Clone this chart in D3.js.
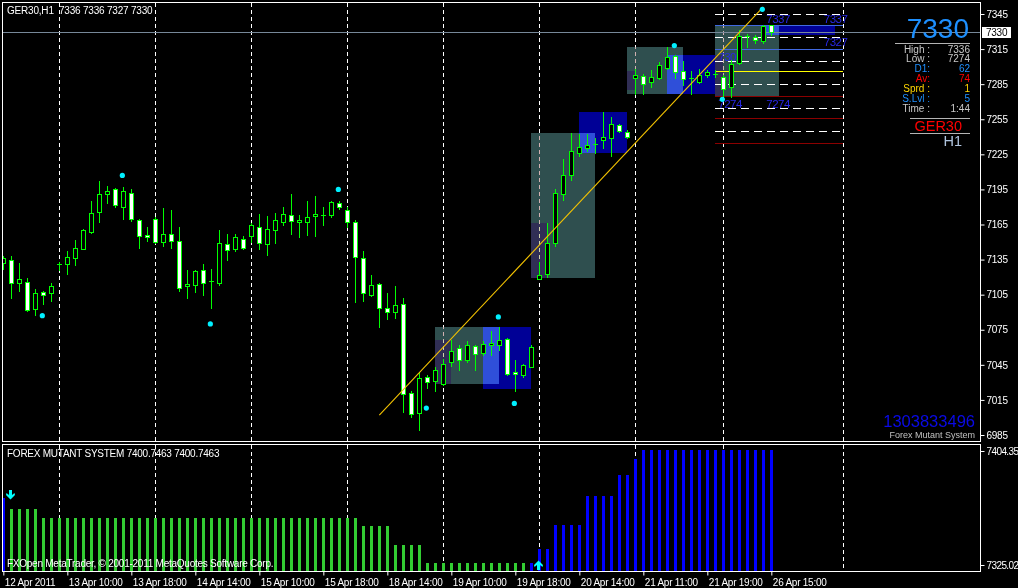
<!DOCTYPE html>
<html><head><meta charset="utf-8">
<script src="https://cdn.jsdelivr.net/npm/d3@7"></script>
<style>
body{margin:0;background:#000;}
svg{display:block;}
text{font-family:"Liberation Sans",Arial,sans-serif;}
</style></head><body>
<svg id="c" width="1018" height="588"></svg>
<script>
// ---------- DATA ----------
const open = [7132,7135,7115,7116,7093,7107,7106,7131,7131,7136,
7144,7159,7176,7191,7195,7180,7192,7169,7156,7170,
7150,7157,7151,7112,7113,7126,7117,7115,7148,7144,
7153,7155,7163,7148,7160,7167,7173,7167,7167,7172,
7173,7173,7183,7177,7167,7136,7105,7114,7094,7090,
7097,7021,7004,7035,7031,7029,7047,7059,7049,7061,
7055,7062,7062,7067,7039,7036,7043,7118,7123,7149,
7191,7207,7226,7230,7234,7237,7239,7250,7244,7290,
7292,7287,7290,7299,7309,7296,7290,7287,7293,7294,
7291,7283,7303,7326,7325,7322,7336];
const high = [7138,7138,7132,7119,7110,7108,7115,7133,7142,7152,
7161,7185,7202,7198,7196,7197,7195,7170,7163,7171,
7179,7177,7163,7126,7126,7131,7127,7160,7157,7157,
7155,7166,7174,7172,7175,7180,7191,7173,7185,7189,
7180,7185,7185,7180,7169,7142,7122,7115,7106,7112,
7102,7023,7039,7036,7043,7050,7066,7062,7065,7062,
7065,7074,7077,7068,7049,7046,7062,7133,7166,7195,
7221,7243,7242,7242,7239,7261,7257,7251,7246,7298,
7294,7297,7304,7317,7310,7305,7296,7298,7297,7297,
7293,7306,7331,7328,7327,7336,7336];
const low = [7127,7102,7108,7091,7088,7097,7100,7126,7123,7130,
7144,7158,7167,7183,7180,7170,7168,7145,7151,7149,
7147,7145,7108,7102,7107,7105,7094,7113,7135,7142,
7144,7150,7144,7139,7149,7165,7157,7154,7156,7155,
7165,7171,7178,7163,7099,7100,7104,7077,7084,7085,
7005,7000,6989,7025,7023,7028,7044,7041,7047,7041,
7053,7053,7058,7036,7023,7035,7043,7118,7120,7147,
7186,7203,7224,7228,7226,7230,7224,7244,7239,7277,
7277,7283,7289,7298,7290,7284,7277,7286,7291,7291,
7275,7274,7302,7317,7320,7320,7327];
const close = [7136,7115,7118,7092,7106,7105,7112,7131,7137,7145,
7160,7175,7191,7194,7182,7194,7170,7155,7154,7150,
7157,7151,7111,7114,7125,7115,7117,7149,7143,7154,
7145,7165,7149,7161,7169,7174,7168,7169,7171,7174,
7173,7184,7180,7167,7137,7106,7113,7094,7090,7096,
7020,7003,7034,7030,7041,7046,7057,7049,7062,7054,
7063,7064,7066,7037,7037,7045,7060,7122,7149,7192,
7207,7228,7231,7233,7234,7240,7251,7245,7240,7293,
7285,7291,7301,7308,7295,7289,7290,7293,7295,7294,
7281,7302,7326,7326,7323,7335,7330];

// indicator buffers (Forex Mutant System)
const _ = null;
const indGreen = [_,7364,7364,7364,7364,7357.7,7357.7,7357.7,7357.7,7357.7,
7357.7,7357.7,7357.7,7357.7,7357.7,7357.7,7357.7,7357.7,7357.7,7357.7,
7357.7,7357.7,7357.7,7357.7,7357.7,7357.7,7357.7,7357.7,7357.7,7357.7,
7357.7,7357.7,7357.7,7357.7,7357.7,7357.7,7357.7,7357.7,7357.7,7357.7,
7357.7,7357.7,7357.7,7357.7,7357.7,7352.2,7352.2,7352.2,7352.2,7338.9,
7338.9,7338.9,7338.9,7326.4,7326.4,7326.4,7326.4,7326.4,7326.4,7326.4,
7326.4,7326.4,7326.4,7326.4,7326.4,7326.4,_,_,_,_,
_,_,_,_,_,_,_,_,_,_,
_,_,_,_,_,_,_,_,_,_,
_,_,_,_,_,_,_];
const indBlue = [7371.6,_,_,_,_,_,_,_,_,_,
_,_,_,_,_,_,_,_,_,_,
_,_,_,_,_,_,_,_,_,_,
_,_,_,_,_,_,_,_,_,_,
_,_,_,_,_,_,_,_,_,_,
_,_,_,_,_,_,_,_,_,_,
_,_,_,_,_,_,7326.4,7336.2,7336.2,7352.9,
7352.9,7352.9,7352.9,7373,7373,7373,7373,7387.6,7387.6,7398.8,
7405,7405,7405,7405,7405,7405,7405,7405,7405,7405,
7405,7405,7405,7405,7405,7405,7405];
const arrowBar = [1, 67];
const arrowDir = ["down", "up"];

// signal dots
const dotBar = [5,15,26,42,53,62,64,84,90,95];
const dotPrice = [7087,7207,7080,7195,7008,7086,7012,7318,7272,7349];

// trend line
const trendBar = [47, 95];
const trendPrice = [7002, 7351];

// zones
const zoneStart=[54,66,78,89], zoneEnd=[62,74,85,97], zoneTop=[7077,7243,7317,7336], zoneBot=[7029,7119,7277,7275];
const innerStart=[54,66,78,89], innerEnd=[56,68,79,90], innerTop=[7066,7166,7296,7310], innerBot=[7029,7119,7280,7275];
const boxStart=[60,72,83,95], boxEnd=[66,78,89,104], boxTop=[7077,7261,7310,7336], boxBot=[7024,7226,7277,7327];

// level lines (right area)
const lvlFrom = 89, lvlTo = 105;
const lvlWhite = [7345,7325,7305,7285,7265,7245];
const lvlBlue = [7336,7315];
const lvlYellow = [7296];
const lvlRed = [7275,7256,7234.5];
const lblText = ["7337","7337","7327","7305","7274","7274"];
const lblPrice = [7337,7337,7327,7305,7274,7274];
const lblBar = [95,105,105,89,89,95];
const lblSide = ["start","end","end","start","start","start"];
const lblPos = ["above","above","below","above","below","below"];

// axes
const priceTicks = [7345,7315,7285,7255,7225,7195,7165,7135,7105,7075,7045,7015,6985];
const indTicks = [7404.35, 7325.02];
const dateBars = [0,8,16,24,32,40,48,56,64,72,80,88,96];
const dateLabels = ["12 Apr 2011","13 Apr 10:00","13 Apr 18:00","14 Apr 14:00","15 Apr 10:00","15 Apr 18:00","18 Apr 14:00","19 Apr 10:00","19 Apr 18:00","20 Apr 14:00","21 Apr 11:00","21 Apr 19:00","26 Apr 15:00"];
const gridBars = [7,19,31,43,55,67,79,90,105];
const lastPrice = 7330;

// info panel
const infoLabels = ["High :","Low :","D1:","Av:","Sprd :","S.Lvl :","Time :"];
const infoValues = ["7336","7274","62","74","1","5","1:44"];
const infoColors = ["#C8C8C8","#C8C8C8","#1E90FF","#FF0000","#FFD700","#1E90FF","#C8C8C8"];

// ---------- DRAW ----------
const FONT = '"Liberation Sans",Arial,sans-serif';
const svg = d3.select('#c');
svg.append('rect').attr('width',1018).attr('height',588).attr('fill','#000');
const x = d3.scaleLinear().domain([0,122]).range([3.33,979.33]);
const y = d3.scaleLinear().domain([6985,7345]).range([435,14]);
const yi = d3.scaleLinear().domain([7325.02,7404.35]).range([565,451]);
const rx = k => Math.round(x(k));
const px = k => Math.round(x(k)) + 0.5;
const ry = p => Math.round(y(p));

const defs = svg.append('defs');
defs.append('clipPath').attr('id','cm').append('rect').attr('x',3).attr('y',3).attr('width',977).attr('height',438);
defs.append('clipPath').attr('id','ci').append('rect').attr('x',3).attr('y',445).attr('width',977).attr('height',126);

const gm = svg.append('g').attr('clip-path','url(#cm)');
const gi = svg.append('g').attr('clip-path','url(#ci)');

// zones
const zi = d3.range(zoneStart.length);
function rectG(g, s, e, t, b, fill){
  g.append('rect').attr('x', rx(s)).attr('width', rx(e)-rx(s))
   .attr('y', ry(t)).attr('height', ry(b)-ry(t)).attr('fill', fill);
}
zi.forEach(i=>rectG(gm, zoneStart[i], zoneEnd[i], zoneTop[i], zoneBot[i], '#2F4F4F'));
zi.forEach(i=>rectG(gm, innerStart[i], innerEnd[i], innerTop[i], innerBot[i], '#302E55'));
zi.forEach(i=>rectG(gm, boxStart[i], boxEnd[i], boxTop[i], boxBot[i], '#000096'));
zi.forEach(i=>{
  const s=Math.max(zoneStart[i],boxStart[i]), e=Math.min(zoneEnd[i],boxEnd[i]);
  const t=Math.min(zoneTop[i],boxTop[i]), b=Math.max(zoneBot[i],boxBot[i]);
  if(e>s && t>b) rectG(gm, s, e, t, b, '#2F4FD9');
});

// vertical grid
[[3,441,gm],[445,571,gi]].forEach(([y0,y1,g])=>{
  g.selectAll(null).data(gridBars).join('line')
   .attr('x1',px).attr('x2',px).attr('y1',y0).attr('y2',y1)
   .attr('stroke','#fff').attr('stroke-dasharray','4,3')
   .style('mix-blend-mode','difference');
});

// level lines
function lvl(arr, color, dash){
  gm.selectAll(null).data(arr).join('line')
   .attr('x1', rx(lvlFrom)).attr('x2', rx(lvlTo))
   .attr('y1', p=>ry(p)+0.5).attr('y2', p=>ry(p)+0.5)
   .attr('stroke', color).attr('stroke-dasharray', dash);
}
lvl(lvlWhite, '#FFFFFF', '8,5');
lvl(lvlBlue, '#4169E1', null);
lvl(lvlYellow, '#FFFF00', null);
lvl(lvlRed, '#8B0000', null);

// current price line
gm.append('line').attr('x1',3).attr('x2',980).attr('y1',ry(lastPrice)+0.5).attr('y2',ry(lastPrice)+0.5)
  .attr('stroke','#778899');

// zone labels
gm.selectAll(null).data(d3.range(lblText.length)).join('text')
  .attr('x', i=> lblSide[i]==='start' ? x(lblBar[i])+3 : x(lblBar[i])+4)
  .attr('y', i=> lblPos[i]==='above' ? y(lblPrice[i]) : y(lblPrice[i])+10.6)
  .attr('text-anchor', i=>lblSide[i])
  .attr('font-size', 11.5).attr('letter-spacing', -0.5)
  .attr('fill', '#2828E6').text(i=>lblText[i]);

// candles
const bars = d3.range(open.length);
gm.selectAll(null).data(bars).join('line')
  .attr('x1',px).attr('x2',px)
  .attr('y1',k=>ry(high[k])).attr('y2',k=>ry(low[k])+1)
  .attr('stroke','#00FF00');
const bodyBars = bars.filter(k=>ry(Math.min(open[k],close[k]))-ry(Math.max(open[k],close[k]))>=1);
gm.selectAll(null).data(bodyBars).join('rect')
  .attr('x',k=>px(k)-2).attr('width',4)
  .attr('y',k=>ry(Math.max(open[k],close[k]))+0.5)
  .attr('height',k=>ry(Math.min(open[k],close[k]))-ry(Math.max(open[k],close[k])))
  .attr('fill',k=>close[k]<open[k]?'#FFFFFF':'#000000')
  .attr('stroke','#00FF00');
const dojiBars = bars.filter(k=>!bodyBars.includes(k));
gm.selectAll(null).data(dojiBars).join('line')
  .attr('x1',k=>rx(k)-2).attr('x2',k=>rx(k)+3)
  .attr('y1',k=>ry(open[k])+0.5).attr('y2',k=>ry(open[k])+0.5)
  .attr('stroke','#00FF00');

// trend line
gm.append('line').attr('x1',x(trendBar[0])).attr('y1',y(trendPrice[0]))
  .attr('x2',x(trendBar[1])).attr('y2',y(trendPrice[1]))
  .attr('stroke','#F5C400').attr('stroke-width',1.1);

// dots
gm.selectAll(null).data(d3.range(dotBar.length)).join('circle')
  .attr('cx',i=>x(dotBar[i])-1).attr('cy',i=>y(dotPrice[i]))
  .attr('r',2.6).attr('fill','#00F0FF');

// indicator bars
gi.selectAll(null).data(bars.filter(k=>indGreen[k]!==null)).join('rect')
  .attr('x',k=>rx(k)-1).attr('width',3)
  .attr('y',k=>Math.round(yi(indGreen[k]))).attr('height',k=>572-Math.round(yi(indGreen[k])))
  .attr('fill','#32CD32');
gi.selectAll(null).data(bars.filter(k=>indBlue[k]!==null)).join('rect')
  .attr('x',k=>rx(k)-1).attr('width',3)
  .attr('y',k=>Math.round(yi(indBlue[k]))).attr('height',k=>572-Math.round(yi(indBlue[k])))
  .attr('fill','#0000FF');
// arrows
gi.selectAll(null).data(d3.range(arrowBar.length)).join('path')
  .attr('transform',i=>{
    const cx = rx(arrowBar[i]) - 1;
    return arrowDir[i]==='down' ? `translate(${cx},${490})` : `translate(${cx},${570}) scale(1,-1)`;
  })
  .attr('d','M-1,0 L2,0 L2,5 L4.5,3 L5,5 L0.5,9.5 L-4,5 L-3.5,3 L-1,5 Z')
  .attr('fill','#00FFFF');

// panel borders
svg.append('rect').attr('x',2.5).attr('y',2.5).attr('width',978).attr('height',439)
  .attr('fill','none').attr('stroke','#fff');
svg.append('rect').attr('x',2.5).attr('y',444.5).attr('width',978).attr('height',127)
  .attr('fill','none').attr('stroke','#fff');

// right price axis
const ay = svg.append('g').attr('transform','translate(980.5,0)')
  .call(d3.axisRight(y).tickValues(priceTicks).tickFormat(d3.format('d')).tickSize(4).tickPadding(2));
const ai = svg.append('g').attr('transform','translate(980.5,0)')
  .call(d3.axisRight(yi).tickValues(indTicks).tickFormat(d3.format('.2f')).tickSize(4).tickPadding(2));
// date axis
const ax = svg.append('g').attr('transform','translate(0,571.5)')
  .call(d3.axisBottom(x).tickValues(dateBars).tickFormat((d,i)=>dateLabels[i]).tickSize(4).tickPadding(3));
[ay,ai,ax].forEach(g=>{
  g.select('.domain').remove();
  g.selectAll('.tick line').attr('stroke','#fff');
  g.selectAll('.tick text').attr('fill','#fff').attr('font-size',10).attr('letter-spacing',-0.25)
   .attr('font-family',FONT);
});
ai.selectAll('.tick text').attr('letter-spacing',-0.6);
ax.selectAll('.tick text').attr('text-anchor','start').attr('x',1);

// last price box
svg.append('rect').attr('x',982).attr('y',ry(lastPrice)-5).attr('width',29).attr('height',11).attr('fill','#fff');
svg.append('text').attr('x',986).attr('y',ry(lastPrice)+4).attr('font-size',10).attr('letter-spacing',-0.25)
  .attr('fill','#000').text(d3.format('d')(lastPrice));

// headers
svg.append('text').attr('x',7).attr('y',14).attr('font-size',10).attr('fill','#fff').attr('letter-spacing',-0.2)
  .attr('xml:space','preserve').style('white-space','pre').text('GER30,H1  7336 7336 7327 7330');
svg.append('text').attr('x',7).attr('y',457).attr('font-size',10).attr('fill','#fff').attr('letter-spacing',-0.25)
  .text('FOREX MUTANT SYSTEM 7400.7463 7400.7463');
svg.append('text').attr('x',7).attr('y',567).attr('font-size',10).attr('fill','#fff').attr('letter-spacing',-0.25)
  .text('FXOpen MetaTrader, © 2001-2011 MetaQuotes Software Corp.');

// info panel
svg.append('text').attr('x',969).attr('y',38).attr('text-anchor','end').attr('font-size',28).attr('fill','#1E90FF').text('7330');
svg.append('line').attr('x1',895).attr('x2',970).attr('y1',43.5).attr('y2',43.5).attr('stroke','#B4B4B4');
const rows = d3.range(infoLabels.length);
svg.selectAll(null).data(rows).join('text').attr('x',930).attr('y',i=>52.5+i*9.85).attr('text-anchor','end')
  .attr('font-size',10).attr('fill',i=>infoColors[i]).text(i=>infoLabels[i]);
svg.selectAll(null).data(rows).join('text').attr('x',970).attr('y',i=>52.5+i*9.85).attr('text-anchor','end')
  .attr('font-size',10).attr('fill',i=>infoColors[i]).text(i=>infoValues[i]);
svg.append('line').attr('x1',910).attr('x2',970).attr('y1',118.5).attr('y2',118.5).attr('stroke','#B4B4B4');
svg.append('text').attr('x',962).attr('y',131).attr('text-anchor','end').attr('font-size',14.5).attr('fill','#FF0000').text('GER30');
svg.append('line').attr('x1',910).attr('x2',970).attr('y1',133.5).attr('y2',133.5).attr('stroke','#B4B4B4');
svg.append('text').attr('x',962).attr('y',146).attr('text-anchor','end').attr('font-size',14.5).attr('fill','#B0C4DE').text('H1');

// bottom-right stamp
svg.append('text').attr('x',975).attr('y',427).attr('text-anchor','end').attr('font-size',16.5).attr('fill','#0A0AE6').text('1303833496');
svg.append('text').attr('x',975).attr('y',438).attr('text-anchor','end').attr('font-size',9).attr('fill','#C0C0C0').text('Forex Mutant System');
</script>
</body></html>
